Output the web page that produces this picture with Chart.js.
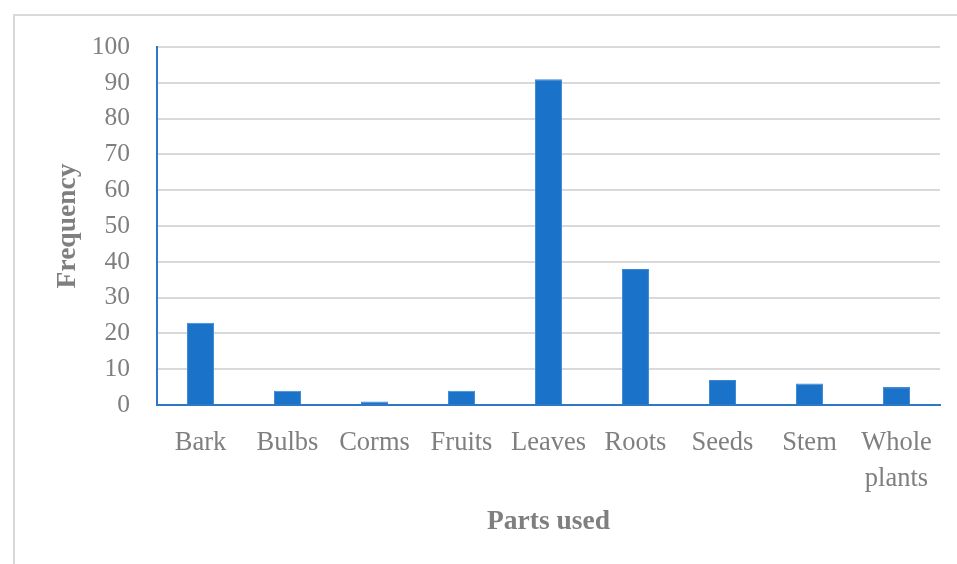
<!DOCTYPE html>
<html>
<head>
<meta charset="utf-8">
<script src="https://cdn.jsdelivr.net/npm/chart.js@4.4.1/dist/chart.umd.min.js"></script>
<style>
  html, body { margin: 0; padding: 0; background: #fff; overflow: hidden; }
  #wrap { position: relative; width: 957px; height: 564px; }
  /* frame around the chart, cut off at right and bottom */
  #frame { position: absolute; left: 13px; top: 14px; width: 1000px; height: 600px;
           border: 2px solid #d9d9d9; box-sizing: border-box; }
  #chart { position: absolute; left: 0; top: 0; }
</style>
</head>
<body>
<div id="wrap">
  <div id="frame"></div>
  <canvas id="chart" width="957" height="564"></canvas>
</div>
<script>
// parts of the plant used, and how often each is cited
const parts = ['Bark', 'Bulbs', 'Corms', 'Fruits', 'Leaves', 'Roots', 'Seeds', 'Stem', ['Whole', 'plants']];
const frequency = [23, 4, 1, 4, 91, 38, 7, 6, 5];
const yTicks = [0, 10, 20, 30, 40, 50, 60, 70, 80, 90, 100];

const serif = "'Liberation Serif', 'DejaVu Serif', serif";
const grey = '#7f7f7f';
const blue = '#1a72c9';

new Chart(document.getElementById('chart'), {
  type: 'bar',
  data: {
    labels: parts,
    datasets: [{
      label: 'Frequency',
      data: frequency,
      backgroundColor: blue,
      borderColor: '#3f8ad6',
      borderWidth: 1,
      barPercentage: 0.31,
      categoryPercentage: 1
    }]
  },
  options: {
    responsive: false,
    animation: false,
    layout: { padding: { left: 0, top: 47, right: 17, bottom: 0 } },
    plugins: { legend: { display: false }, tooltip: { enabled: false } },
    scales: {
      x: {
        grid: { display: false, drawTicks: false },
        border: { display: true, color: '#2e78c8', width: 2 },
        ticks: { color: grey, font: { family: serif, size: 26.5, lineHeight: 1.36 }, padding: 20, maxRotation: 0, autoSkip: false },
        title: { display: true, text: 'Parts used', color: grey,
                 font: { family: serif, size: 27.5, weight: 'bold', lineHeight: 1.2 }, padding: { bottom: 26 } },
        afterFit: s => { s.height = 159; }
      },
      y: {
        min: 0, max: 100,
        afterBuildTicks: s => { s.ticks = yTicks.map(v => ({ value: v })); },
        grid: { color: '#d9d9d9', lineWidth: 2, drawTicks: false },
        border: { display: true, color: '#2e78c8', width: 2 },
        ticks: { color: grey, font: { family: serif, size: 25.5 }, padding: 27 },
        title: { display: true, text: 'Frequency', color: grey,
                 font: { family: serif, size: 27.5, weight: 'bold', lineHeight: 1.2 }, padding: { top: 51 } },
        afterFit: s => { s.width = 157; }
      }
    }
  }
});
</script>
</body>
</html>
